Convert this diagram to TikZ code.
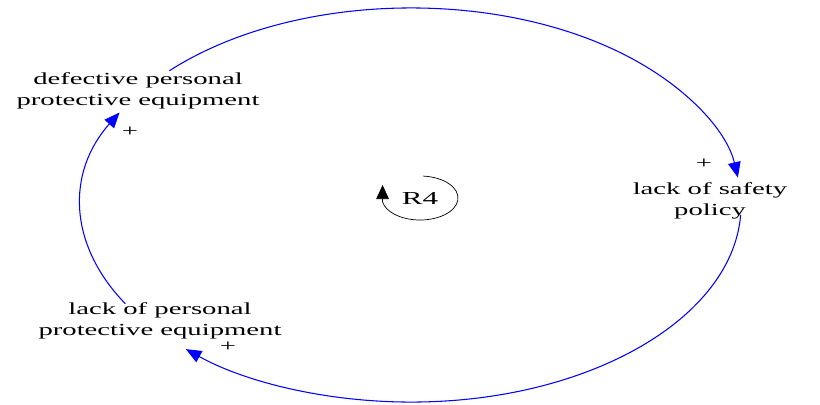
\documentclass[tikz,border=0pt]{standalone}
\usepackage{fontspec}
\setmainfont[FakeStretch=1.7]{Liberation Serif}
\usetikzlibrary{arrows.meta}
\begin{document}
\begin{tikzpicture}[x=0.025cm, y=0.025cm, font=\fontsize{12}{15}\selectfont, line join=round, line cap=round,
	link/.style={blue, line width=0.75pt, -{Triangle[length=11pt,width=9pt]}},
	loopline/.style={black, line width=0.5pt, -{Triangle[length=10pt,width=9pt]}},
	var/.style={align=center, inner sep=0pt}]
	\useasboundingbox (0,0) rectangle (820,404);
	\path
	(411,199) coordinate (O)
	(138,313) node[var] (def) {defective personal\\protective equipment}
	(710,203) node[var] (pol) {lack of safety\\policy}
	(160,83) node[var] (lpe) {lack of personal\\protective equipment}
	(420,206) node[inner sep=0pt,font=\fontsize{13}{15}\selectfont] (R4) {R4}
	(O)+(137:8.25cm and 4.925cm) coordinate (def-a)
	(O)+(-3:8.25cm and 4.925cm) coordinate (pol-a)
	(O)+(210:8.25cm and 4.925cm) coordinate (lpe-a)
	;
	\draw[link] (def-a) arc[start angle=137, end angle=8, x radius=8.25cm, y radius=4.925cm];
	\draw[link] (pol-a) arc[start angle=-3, end angle=-133, x radius=8.25cm, y radius=4.925cm];
	\draw[link] (lpe-a) arc[start angle=210, end angle=152, x radius=8.25cm, y radius=4.925cm];
	\draw[loopline] (R4)++(85:0.95cm and 0.55cm) arc[start angle=85, end angle=-170, x radius=0.95cm, y radius=0.55cm] -- ++(0,0.42cm);
	\foreach \x/\y/\n in {130/272/s1,704/240/s2,228/57/s3}\node[inner sep=0pt] (\n) at (\x,\y) {+};
\end{tikzpicture}
\end{document}
